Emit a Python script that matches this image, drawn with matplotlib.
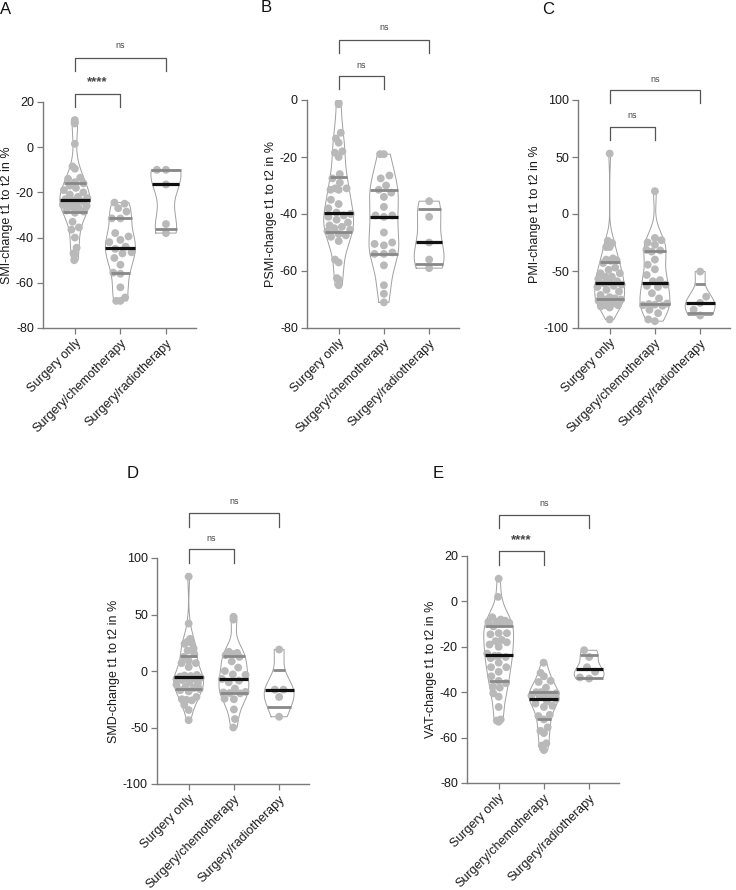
import numpy as np
import matplotlib
matplotlib.use("Agg")
import matplotlib.pyplot as plt
from matplotlib.transforms import blended_transform_factory

plt.rcParams['font.family'] = ['Liberation Sans', 'DejaVu Sans']
plt.rcParams['axes.unicode_minus'] = False

groups = ["Surgery only", "Surgery/chemotherapy", "Surgery/radiotherapy"]

# ---- Panel A: SMI ----
smi_surgery = [12, 11, 10.5, 1.5, -8.5, -9.5, -13.5, -14, -15.5, -16, -17, -18, -19, -20, -21,
               -22, -22.5, -23, -23.5, -24, -24.5, -25, -25.5, -26, -26.5, -27, -28, -28.5, -29,
               -33, -35.5, -36.5, -40, -44.5, -47, -47.5, -50]
smi_chemo = [-24.5, -25, -27, -28.5, -31.5, -31.5, -38, -39.5, -41, -42, -44, -45, -46.5, -47,
             -49, -52, -55.5, -56, -62, -66.5, -68, -68]
smi_radio = [-10, -10, -16.5, -34, -38]

# ---- Panel B: PSMI ----
psmi_surgery = [-1, -1.5, -11.5, -13.5, -15, -18, -18.5, -20, -26, -27.5, -29, -31, -31, -31.5,
                -31.5, -35, -36.5, -38, -39.5, -40, -40.5, -41, -42, -43, -44, -44.5, -45, -45.5,
                -46, -47, -47.5, -48, -49.5, -56, -57, -62.5, -63, -65]
psmi_chemo = [-19, -19, -26.5, -27.5, -30, -31.5, -32.5, -34, -37.5, -40.5, -40.5, -41, -46.5,
              -50, -50.5, -51, -53.5, -54, -54, -58, -65, -68, -71]
psmi_radio = [-35.5, -41, -50, -56, -59]

# ---- Panel C: PMI ----
pmi_surgery = [53, -23.5, -25.5, -29, -29, -39, -40, -40.5, -41, -43, -47, -49, -52, -52, -55,
               -55, -57, -59, -60, -61, -62, -63, -64, -66.5, -68, -71, -73, -74, -75, -75, -76,
               -78, -78.5, -80, -80, -81, -82, -92.5]
pmi_chemo = [20, -21, -23, -25, -27, -31.5, -32, -33, -40, -44.5, -48.5, -53.5, -58, -59, -62,
             -63, -64, -69.5, -74, -78.5, -79, -79.5, -80, -80.5, -84, -87, -92.5, -94]
pmi_radio = [-50.5, -72.5, -78, -84, -89]

# ---- Panel D: SMD ----
smd_surgery = [83.5, 42, 28.5, 26, 25, 24, 20, 18, 15, 12.5, 9, 7, 7, 3.5, -3.5, -4, -4.5, -5,
               -5.5, -6, -6.5, -7, -8, -10, -11, -12, -14, -15, -16, -17, -18, -23, -25, -25.5,
               -26, -30, -34.5, -43.5]
smd_chemo = [48, 45.5, 17, 16, 15, 14, 12.5, 8.5, 3, 0, -3, -3.5, -7, -8.5, -10, -15.5, -18.5,
             -19, -19.5, -19.8, -24.5, -25, -34, -42.5, -50]
smd_radio = [19, -16.5, -16.5, -23, -40.5]

# ---- Panel E: VAT ----
vat_surgery = [10, 2, -7, -8, -8.5, -9, -9, -9.5, -10, -11, -14, -14, -14.5, -17, -17.5, -18,
               -19, -20, -23, -24, -24, -24.5, -25, -27, -29, -29, -31, -33, -35, -36, -37.5,
               -38, -40.5, -42, -46.5, -52, -52.5, -53]
vat_chemo = [-27, -31.5, -33, -35, -35.5, -38, -40, -40, -40.5, -41, -41, -41.5, -42, -43, -44,
             -45, -46, -46.5, -50, -50.5, -52, -55.5, -57, -58, -62.5, -63.5, -65.5]
vat_radio = [-21.5, -24.5, -29, -31, -33.5, -34]

panels = [
    dict(letter="A", ylabel="SMI-change t1 to t2 in %", data=[smi_surgery, smi_chemo, smi_radio],
         ylim=(-80, 20), yticks=[-80, -60, -40, -20, 0, 20], sig=["****", "ns"],
         rect=(43, 102, 196, 328), br=[(1.035, 0.978, 1.088), (1.195, 1.137, 1.248)],
         lab=(6, 9)),
    dict(letter="B", ylabel="PSMI-change t1 to t2 in %", data=[psmi_surgery, psmi_chemo, psmi_radio],
         ylim=(-80, 0), yticks=[-80, -60, -40, -20, 0], sig=["ns", "ns"],
         rect=(307, 100, 459, 328), br=[(1.105, 1.048, 1.153), (1.263, 1.206, 1.316)],
         lab=(266, 8)),
    dict(letter="C", ylabel="PMI-change t1 to t2 in %", data=[pmi_surgery, pmi_chemo, pmi_radio],
         ylim=(-100, 100), yticks=[-100, -50, 0, 50, 100], sig=["ns", "ns"],
         rect=(578, 100, 730, 328), br=[(0.882, 0.825, 0.93), (1.044, 0.987, 1.092)],
         lab=(548, 9)),
    dict(letter="D", ylabel="SMD-change t1 to t2 in %", data=[smd_surgery, smd_chemo, smd_radio],
         ylim=(-100, 100), yticks=[-100, -50, 0, 50, 100], sig=["ns", "ns"],
         rect=(157, 558, 309, 784), br=[(1.04, 0.978, 1.088), (1.199, 1.137, 1.248)],
         lab=(133, 473)),
    dict(letter="E", ylabel="VAT-change t1 to t2 in %", data=[vat_surgery, vat_chemo, vat_radio],
         ylim=(-80, 20), yticks=[-80, -60, -40, -20, 0, 20], sig=["****", "ns"],
         rect=(467, 556, 619, 783), br=[(1.022, 0.96, 1.07), (1.181, 1.123, 1.233)],
         lab=(438, 473)),
]

W, H = 736, 890
fig = plt.figure(figsize=(W / 100, H / 100), dpi=100)

DOT = '#b9b9b9'
OUTLINE = '#a0a0a0'
QCOL = '#888888'
AXCOL = '#7a7a7a'
HALF = 0.33


def kde_width(vals, grid):
    v = np.asarray(vals, float)
    n = len(v)
    bw = 0.8 * v.std(ddof=1) * n ** (-1 / 5)
    d = np.exp(-0.5 * ((grid[:, None] - v[None, :]) / bw) ** 2).sum(axis=1)
    return d / d.max() * HALF


def swarm(ax, vals, xc, grid, wid):
    """deterministic beeswarm in display coordinates, confined to violin width"""
    vals = np.asarray(vals, float)
    order = np.argsort(vals)
    trans = ax.transData
    pts = []
    diam = 8.5
    xs = np.zeros(len(vals))
    for i in order:
        y = vals[i]
        w = np.interp(y, grid, wid)
        p0 = trans.transform((xc, y))
        pw = trans.transform((xc + max(w, 0.02), y))[0] - p0[0]
        lim = max(pw - 2.5, 0.0)
        cands = np.linspace(-lim, lim, 2 * int(lim // 1.0) + 1) if lim > 0 else np.array([0.0])
        cands = cands[np.argsort(np.abs(cands), kind='stable')]
        best, bestd = None, -1
        for c in cands:
            px = p0[0] + c
            if pts:
                dmin = min(np.hypot(px - q[0], p0[1] - q[1]) for q in pts)
            else:
                dmin = 1e9
            if dmin >= diam:
                best = c
                break
            if dmin > bestd + 0.3:
                bestd, best = dmin, c
        px = p0[0] + best
        pts.append((px, p0[1]))
        xs[i] = trans.inverted().transform((px, p0[1]))[0]
    return xs


for P in panels:
    l, t, r, b = P["rect"]
    ax = fig.add_axes([l / W, 1 - b / H, (r - l) / W, (b - t) / H])
    ax.set_xlim(-0.7, 2.66)
    ax.set_ylim(*P["ylim"])
    for k, vals in enumerate(P["data"]):
        v = np.asarray(vals, float)
        grid = np.linspace(v.min(), v.max(), 300)
        wid = kde_width(v, grid)
        ax.fill_betweenx(grid, k - wid, k + wid, facecolor='white', edgecolor='none', zorder=1)
        xs_poly = np.concatenate([k - wid, (k + wid)[::-1], [k - wid[0]]])
        ys_poly = np.concatenate([grid, grid[::-1], [grid[0]]])
        ax.plot(xs_poly, ys_poly, color=OUTLINE, lw=0.7, zorder=2)
        xs = swarm(ax, v, k, grid, wid)
        ax.scatter(xs, v, s=32, color=DOT, edgecolors='none', zorder=3)
        q1, med, q3 = np.percentile(v, [25, 50, 75], method='weibull')
        for q, col, lw in [(q1, QCOL, 2.0), (q3, QCOL, 2.0), (med, '#111111', 2.3)]:
            w = np.interp(q, grid, wid)
            ax.plot([k - w, k + w], [q, q], color=col, lw=lw, solid_capstyle='butt', zorder=4)

    for s in ['top', 'right']:
        ax.spines[s].set_visible(False)
    for s in ['left', 'bottom']:
        ax.spines[s].set_color(AXCOL)
        ax.spines[s].set_linewidth(1.0)
    ax.set_yticks(P["yticks"])
    ax.set_xticks([0, 1, 2])
    ax.set_xticklabels(groups, rotation=45, ha='right', rotation_mode='anchor', fontsize=9)
    ax.tick_params(axis='both', colors=AXCOL, length=4, width=0.9, labelcolor='#1a1a1a',
                   labelsize=9, pad=2.5)
    ax.set_ylabel(P["ylabel"], fontsize=9, color='#1a1a1a', labelpad=2)

    bt = blended_transform_factory(ax.transData, ax.transAxes)
    for j, (ytop, yend, ytxt) in enumerate(P["br"]):
        x2 = j + 1
        ax.plot([0, 0, x2, x2], [yend, ytop, ytop, yend], color='#555555', lw=0.9,
                transform=bt, clip_on=False)
        txt = P["sig"][j]
        if txt == "ns":
            ax.text(x2 / 2, ytxt, txt, transform=bt, ha='center', va='center', fontsize=6.5,
                    color='#444444')
        else:
            ax.text(x2 / 2, ytxt, txt, transform=bt, ha='center', va='center', fontsize=9.5,
                    fontweight='bold', color='#444444')

    fig.text(P["lab"][0] / W, 1 - P["lab"][1] / H, P["letter"], ha='center', va='center',
             fontsize=12, color='#111111')

fig.savefig("out.png", dpi=100)
